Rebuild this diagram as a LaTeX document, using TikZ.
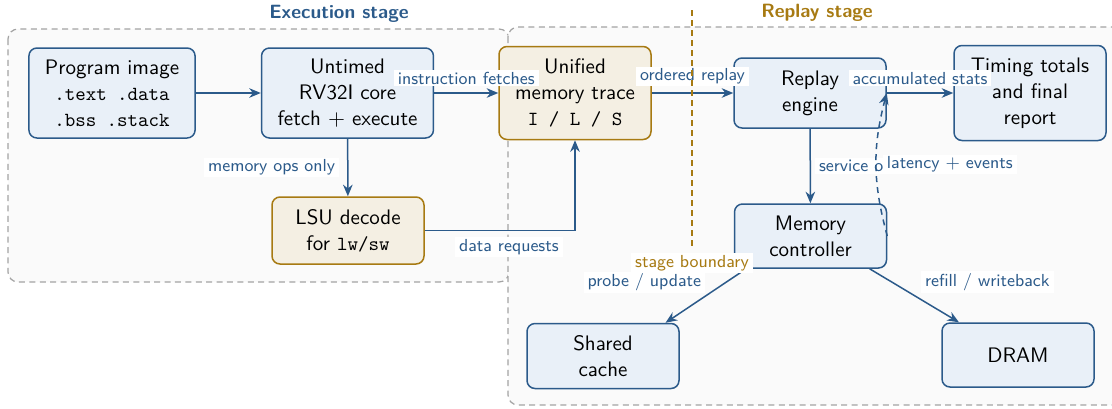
\documentclass[tikz,border=0pt]{standalone}
\usetikzlibrary{arrows.meta}

\definecolor{ink}{HTML}{2B5A8A}
\definecolor{boxfill}{HTML}{E9F0F8}
\definecolor{gold}{HTML}{A77A12}
\definecolor{tanfill}{HTML}{F4EFE3}
\definecolor{groupline}{HTML}{A3A3A3}
\definecolor{groupfill}{HTML}{FAFAFA}

% monospaced snippets inside the boxes
\newcommand{\code}[1]{{\fontsize{10}{13}\selectfont\ttfamily #1}}

\tikzset{
  group/.style={draw=groupline, fill=groupfill, line width=0.6pt,
    dash pattern=on 3pt off 2.2pt, rounded corners=5pt},
  bluebox/.style={draw=ink, fill=boxfill, line width=0.75pt, rounded corners=4pt,
    align=center, inner xsep=8pt, inner ysep=5pt,
    minimum width=76pt, minimum height=32pt,
    font=\fontsize{10.5}{13}\selectfont\sffamily},
  tanbox/.style={bluebox, draw=gold, fill=tanfill},
  flow/.style={draw=ink, line width=0.75pt, -{Stealth[length=5.8pt,width=4.8pt]}},
  elabel/.style={font=\fontsize{8.7}{10.5}\selectfont\sffamily, text=ink, fill=white,
    inner xsep=2pt, inner ysep=1pt},
  stagetitle/.style={font=\fontsize{9.6}{11.5}\selectfont\sffamily\bfseries}
}

\begin{document}
\begin{tikzpicture}[x=0.5pt, y=-0.5pt]
\useasboundingbox (0,0) rectangle (1112,408);

% stage regions
\draw[group] (8,29) rectangle (509,282);
\draw[group] (508,27) rectangle (1122,405);

\node[stagetitle, text=ink] (exectitle) at (339,14) {Execution stage};
\node[stagetitle, text=gold] (replaytitle) at (817,13) {Replay stage};

% execution stage
\node[bluebox, minimum height=45pt] (prog) at (112,93)
  {Program image\\\code{.text .data}\\\code{.bss .stack}};
\node[bluebox, minimum height=45pt] (core) at (347.5,93)
  {Untimed\\RV32I core\\fetch $+$ execute};
\node[tanbox, minimum height=46.5pt] (trace) at (575,93)
  {Unified\\memory trace\\\code{I / L / S}};
\node[tanbox, minimum height=33.5pt] (lsu) at (348,230.5)
  {LSU decode\\for \code{lw/sw}};

% replay stage
\node[bluebox, minimum height=35pt] (replay) at (810,93) {Replay\\engine};
\node[bluebox, minimum height=47.5pt] (timing) at (1030,93)
  {Timing totals\\and final\\report};
\node[bluebox] (mc) at (810.5,236) {Memory\\controller};
\node[bluebox, minimum height=32.5pt] (sc) at (603,356) {Shared\\cache};
\node[bluebox] (dram) at (1018,355) {DRAM};

% connectors
\draw[flow] (prog) -- (core);
\draw[flow] (core) -- node[elabel, above=3pt] {instruction fetches} (trace);
\draw[flow] (core) -- node[elabel, left=4pt] {memory ops only} (lsu);
\draw[flow] (lsu) -| node[elabel, below=3pt, pos=0.28] {data requests} (trace);
\draw[flow] (trace) -- node[elabel, above=3pt] {ordered replay} (replay);
\draw[flow] (replay) -- node[elabel, above=3pt] {accumulated stats} (timing);
\draw[flow] (replay) -- node[elabel, right=2pt] {service order} (mc);
\draw[flow, dash pattern=on 3pt off 2.5pt] (mc.east) to[bend left=15]
  node[elabel, right=3pt] {latency $+$ events} (replay.east);
\draw[flow] (mc.207) -- node[elabel, anchor=south east, xshift=0pt, yshift=1pt]
  {probe / update} (sc.28);
\draw[flow] (mc.331) -- node[elabel, anchor=south west, xshift=3pt, yshift=1pt]
  {refill / writeback} (dram.151);

% boundary between the two stages
\coordinate (sbtop) at (692,10);
\coordinate (sbbot) at (692,246);
\draw[gold, line width=0.7pt, dash pattern=on 3pt off 2pt] (sbtop) -- (sbbot);
\node[font=\fontsize{8.7}{10.5}\selectfont\sffamily, text=gold, fill=white,
  inner xsep=2pt, inner ysep=1pt] (sbnd) at (692,263) {stage boundary};
\end{tikzpicture}
\end{document}
